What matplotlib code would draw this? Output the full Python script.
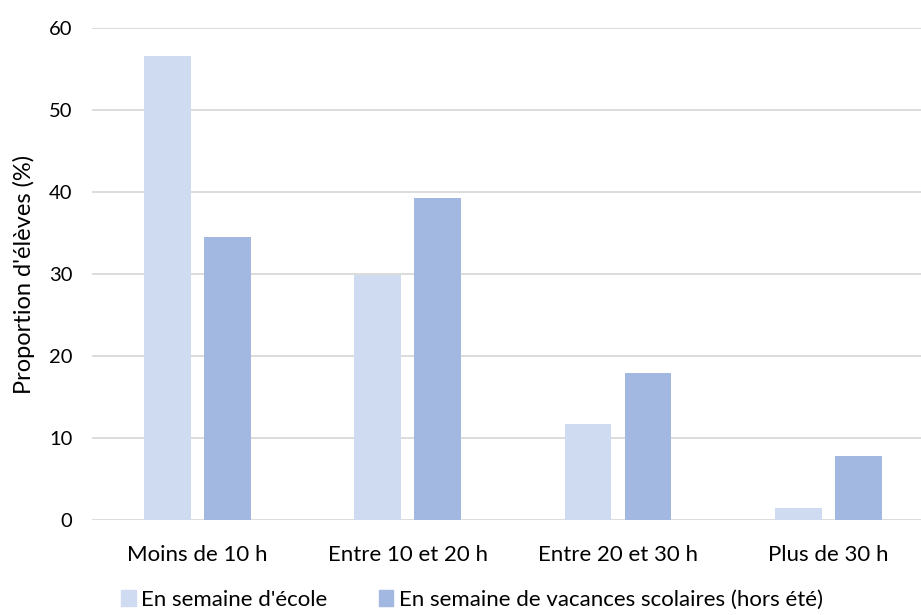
import numpy as np
from matplotlib import pyplot as plt
from matplotlib.patches import Patch

plt.rcParams["font.family"] = ["Lato", "DejaVu Sans"]

categories = ["Moins de 10 h", "Entre 10 et 20 h", "Entre 20 et 30 h", "Plus de 30 h"]
series_names = ["En semaine d'école", "En semaine de vacances scolaires (hors été)"]
school_week = [56.7, 29.9, 11.7, 1.5]
holiday_week = [34.5, 39.3, 18.0, 7.8]
colors = ["#CFDBF1", "#A2B8E1"]

fig = plt.figure(figsize=(9.21, 6.15), dpi=100)
ax = fig.add_axes([0.0999, 0.154, 0.9001, 0.7997])

x = np.arange(len(categories))
w = 0.223
off = 0.1425
ax.bar(x - off, school_week, w, color=colors[0], zorder=3)
ax.bar(x + off, holiday_week, w, color=colors[1], zorder=3)

ax.set_xlim(-0.5, 3.44)
ax.set_ylim(0, 60)
ax.set_yticks(range(0, 61, 10))
ax.set_xticks(x, categories)
ax.yaxis.grid(True, color="#D9D9D9", linewidth=1.3, zorder=0)
ax.tick_params(axis="both", length=0, colors="#000000")
ax.tick_params(axis="x", pad=18, labelsize=16)
ax.tick_params(axis="y", pad=14, labelsize=14.5)
for s in ax.spines.values():
    s.set_visible(False)
ax.set_ylabel("Proportion d'élèves (%)", fontsize=17, labelpad=10)

handles = [Patch(color=c, label=n) for c, n in zip(colors, series_names)]
fig.legend(handles=handles, loc="lower left", bbox_to_anchor=(0.11, -0.024),
           ncol=2, frameon=False, fontsize=16, handlelength=0.65,
           handleheight=0.75, handletextpad=0.25, columnspacing=2.3)

fig.savefig("out.png", dpi=100)
